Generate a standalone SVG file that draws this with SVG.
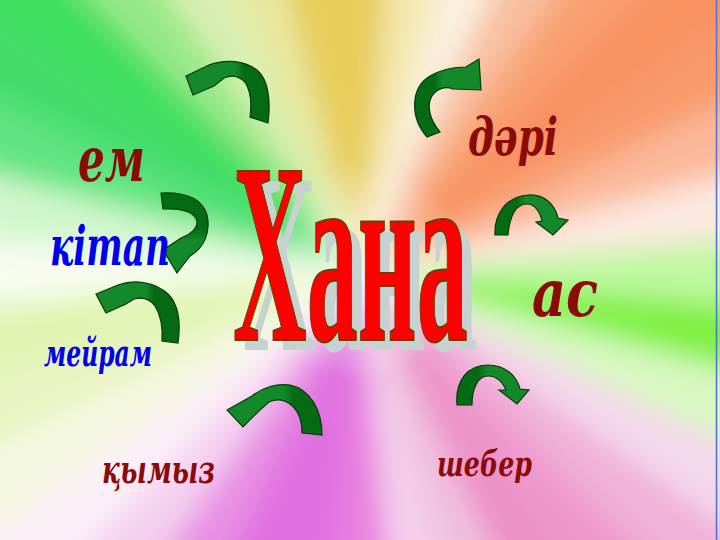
<svg xmlns="http://www.w3.org/2000/svg" width="720" height="540" viewBox="0 0 720 540">
<defs>
<filter id="blur" filterUnits="userSpaceOnUse" x="-100" y="-100" width="920" height="740">
<feGaussianBlur stdDeviation="14"/>
</filter>
<radialGradient id="glow" cx="362" cy="272" r="110" gradientUnits="userSpaceOnUse">
<stop offset="0" stop-color="#ffffff" stop-opacity="0.7"/>
<stop offset="1" stop-color="#ffffff" stop-opacity="0"/>
</radialGradient>
<linearGradient id="gR" x1="0" y1="0" x2="1" y2="0">
<stop offset="0" stop-color="#13892a"/><stop offset="0.6" stop-color="#13892a"/>
<stop offset="0.7" stop-color="#056a14"/><stop offset="1" stop-color="#056a14"/>
</linearGradient>
<linearGradient id="gL" x1="0" y1="0" x2="1" y2="0">
<stop offset="0" stop-color="#056a14"/><stop offset="0.3" stop-color="#056a14"/>
<stop offset="0.42" stop-color="#13892a"/><stop offset="1" stop-color="#13892a"/>
</linearGradient>
<linearGradient id="gT" x1="0" y1="0" x2="0" y2="1">
<stop offset="0" stop-color="#056a14"/><stop offset="0.45" stop-color="#056a14"/>
<stop offset="0.6" stop-color="#13892a"/><stop offset="1" stop-color="#13892a"/>
</linearGradient>
<style>
.arrow{stroke:#053a08;stroke-width:1.2;stroke-linejoin:miter}
.word{font-family:"DejaVu Serif","Liberation Serif",serif;font-weight:bold;font-style:italic}
.red{fill:#8b0b0b}
.blue{fill:#0000f0}
.title{font-family:"Liberation Serif","DejaVu Serif",serif;font-weight:bold;font-size:258px}
</style>
</defs>
<rect width="720" height="540" fill="#f4f0e0"/>
<g id="background" filter="url(#blur)">
<g transform="translate(362,272)">
<polygon points="0,0 896.6,-78.4 896.6,78.4" fill="#c0f8a0"/>
<polygon points="0,0 896.6,78.4 869.3,232.9" fill="#80f040"/>
<polygon points="0,0 869.3,232.9 815.7,380.3" fill="#d8f8c0"/>
<polygon points="0,0 815.7,380.3 737.2,516.2" fill="#f4d8ec"/>
<polygon points="0,0 737.2,516.2 636.4,636.4" fill="#f0b0d8"/>
<polygon points="0,0 636.4,636.4 516.2,737.2" fill="#ee98cc"/>
<polygon points="0,0 516.2,737.2 380.3,815.7" fill="#ec90c8"/>
<polygon points="0,0 380.3,815.7 232.9,869.3" fill="#f0c0e0"/>
<polygon points="0,0 232.9,869.3 78.4,896.6" fill="#f4d0ec"/>
<polygon points="0,0 78.4,896.6 -78.4,896.6" fill="#e880e0"/>
<polygon points="0,0 -78.4,896.6 -232.9,869.3" fill="#e070e0"/>
<polygon points="0,0 -232.9,869.3 -380.3,815.7" fill="#e070e0"/>
<polygon points="0,0 -380.3,815.7 -516.2,737.2" fill="#e890e4"/>
<polygon points="0,0 -516.2,737.2 -636.4,636.4" fill="#f4d0f0"/>
<polygon points="0,0 -636.4,636.4 -737.2,516.2" fill="#fbf0f8"/>
<polygon points="0,0 -737.2,516.2 -815.7,380.3" fill="#f4f8e0"/>
<polygon points="0,0 -815.7,380.3 -869.3,232.9" fill="#e8f4c0"/>
<polygon points="0,0 -869.3,232.9 -896.6,78.4" fill="#e0f4b0"/>
<polygon points="0,0 -896.6,78.4 -896.6,-78.4" fill="#f8fcf0"/>
<polygon points="0,0 -896.6,-78.4 -869.3,-232.9" fill="#d0f6cc"/>
<polygon points="0,0 -869.3,-232.9 -815.7,-380.3" fill="#60e480"/>
<polygon points="0,0 -815.7,-380.3 -737.2,-516.2" fill="#44dc6c"/>
<polygon points="0,0 -737.2,-516.2 -636.4,-636.4" fill="#40e060"/>
<polygon points="0,0 -636.4,-636.4 -516.2,-737.2" fill="#98e888"/>
<polygon points="0,0 -516.2,-737.2 -380.3,-815.7" fill="#d8f0b0"/>
<polygon points="0,0 -380.3,-815.7 -232.9,-869.3" fill="#e8e8a0"/>
<polygon points="0,0 -232.9,-869.3 -78.4,-896.6" fill="#e6cc58"/>
<polygon points="0,0 -78.4,-896.6 78.4,-896.6" fill="#e8cc58"/>
<polygon points="0,0 78.4,-896.6 232.9,-869.3" fill="#f4e8b0"/>
<polygon points="0,0 232.9,-869.3 380.3,-815.7" fill="#faf0e0"/>
<polygon points="0,0 380.3,-815.7 516.2,-737.2" fill="#f8c0a0"/>
<polygon points="0,0 516.2,-737.2 636.4,-636.4" fill="#f8a070"/>
<polygon points="0,0 636.4,-636.4 737.2,-516.2" fill="#f89060"/>
<polygon points="0,0 737.2,-516.2 815.7,-380.3" fill="#f89a6a"/>
<polygon points="0,0 815.7,-380.3 869.3,-232.9" fill="#fab898"/>
<polygon points="0,0 869.3,-232.9 896.6,-78.4" fill="#fce8e0"/>
</g>
</g>
<rect width="720" height="540" fill="url(#glow)"/>
<line x1="716.5" y1="0" x2="716.5" y2="540" stroke="#5070d0" stroke-width="1.5"/>

<g id="connectors">
<path id="arrow-top-left" class="arrow" fill="url(#gR)" d="M186,76 L209,65 C225,59 245,60 258,71 C268,80 271,100 268,123 L250,117 C252,103 250,90 245,82 C239,76 231,75 224,78 L214,86 L193,95 Z"/>
<path id="arrow-kitap" class="arrow" fill="url(#gT)" d="M161,193 C185,192 202,198 207,215 C211,232 204,248 190,256 L177,273 L163,250 L181,238 C191,234 197,229 197,222 C196,212 182,208 163,209 Z"/>
<path id="arrow-meiram" class="arrow" fill="url(#gR)" d="M96,294 L118,285 C135,279 155,282 168,294 C178,304 181,322 178,343 L162,341 C163,326 160,314 155,306 C150,299 142,297 134,299 L126,304 L106,313 Z"/>
<path id="arrow-kymyz" class="arrow" fill="url(#gR)" d="M227,410 L252,396 C262,388 276,383 290,385 C310,389 322,410 322,435 L302,433 C302,420 298,410 290,404 C283,399 276,399 269,402 L260,410 L243,427 Z"/>
<path id="arrow-top-right" class="arrow" fill="url(#gL)" d="M427,137 C410,118 410,88 430,76 C442,69 456,67 466,67 L479,59 L481,90 L453,89 C446,86 437,88 432,96 C426,106 430,120 440,132 Z"/>
<path id="arrow-as" class="arrow" fill="url(#gL)" d="M495,235 C494,215 505,197 528,195 C545,194 555,205 558,218 L568,220 L553,235 L536,222 L542,221 C540,212 535,204 527,204 C517,204 510,214 508,235 Z"/>
<path id="arrow-sheber" class="arrow" fill="url(#gL)" d="M457,405 C455,380 468,365 488,365 C505,365 516,375 520,389 L529,390 L517,404 L499,390 L506,390 C502,381 496,376 488,376 C478,376 472,388 472,405 Z"/>
</g>

<g id="title">
<text class="title" transform="matrix(0.394,0,0,1,243,350)" x="0" y="0" fill="#c6d2d0" textLength="596" lengthAdjust="spacingAndGlyphs">Хана</text>
<text class="title" transform="matrix(0.394,0,0,1,233,340)" x="0" y="0" fill="#ff0000" stroke="#6a4000" stroke-width="2" textLength="596" lengthAdjust="spacingAndGlyphs">Хана</text>
</g>
<g id="node-em"><text class="word red" x="78" y="181" font-size="62" textLength="67" lengthAdjust="spacingAndGlyphs">ем</text></g>
<g id="node-kitap"><text class="word blue" x="50" y="265" font-size="54" textLength="120" lengthAdjust="spacingAndGlyphs">кітап</text></g>
<g id="node-meiram"><text class="word blue" x="44" y="366" font-size="38" textLength="108" lengthAdjust="spacingAndGlyphs">мейрам</text></g>
<g id="node-dari"><text class="word red" x="468" y="155" font-size="52" textLength="90" lengthAdjust="spacingAndGlyphs">дәрі</text></g>
<g id="node-as"><text class="word red" x="532" y="316" font-size="66" textLength="66" lengthAdjust="spacingAndGlyphs">ас</text></g>
<g id="node-sheber"><text class="word red" x="437" y="476" font-size="36" textLength="95" lengthAdjust="spacingAndGlyphs">шебер</text></g>
<g id="node-kymyz"><text class="word red" x="102" y="483" font-size="40" textLength="113" lengthAdjust="spacingAndGlyphs">қымыз</text></g>
</svg>
